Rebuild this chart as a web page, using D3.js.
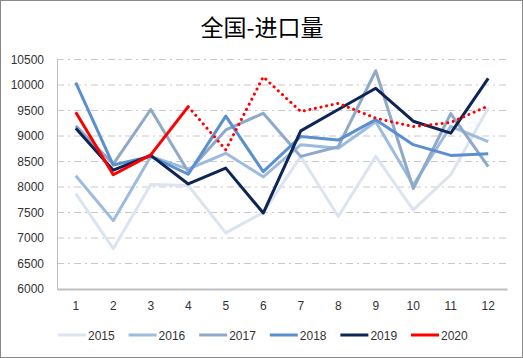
<!DOCTYPE html>
<html><head><meta charset="utf-8">
<script src="https://cdn.jsdelivr.net/npm/d3@7/dist/d3.min.js"></script>
<style>body{margin:0;background:#fff}svg{display:block}</style>
</head><body>
<svg id="c" width="523" height="358"></svg>
<script>
const months = ["1","2","3","4","5","6","7","8","9","10","11","12"];
const yTicks = [6000,6500,7000,7500,8000,8500,9000,9500,10000,10500];
const s2015 = [7870,6790,8050,8030,7100,7500,8600,7420,8600,7550,8240,9550];
const s2016 = [8220,7340,8600,8350,8660,8200,8830,8760,9280,8040,9190,8890];
const s2017 = [9200,8450,9520,8300,9120,9445,8600,8790,10280,7970,9440,8400];
const s2018 = [10045,8430,8600,8250,9390,8300,8990,8920,9320,8830,8620,8650];
const s2019 = [9150,8330,8620,8060,8370,7490,9100,9520,9935,9290,9055,10130];
const s2020 = [9465,8240,8630,9575];
const s2020Dotted = [null,null,null,9575,8730,10160,9480,9640,9350,9185,9265,9590];
const seriesNames = ["2015","2016","2017","2018","2019","2020"];
const seriesColors = ["#dbe4f0","#9dbbe0","#8fa9c9","#5b8fd0","#0d2456","#ff0000"];
const seriesData = [s2015,s2016,s2017,s2018,s2019,s2020];

const svg = d3.select("#c");
svg.append("rect").attr("x",0.5).attr("y",0.5).attr("width",522).attr("height",357)
  .attr("fill","#fff").attr("stroke","#898989");

svg.append("text").attr("x",262).attr("y",36).attr("text-anchor","middle")
  .attr("font-family","'Noto Sans CJK SC'").attr("font-size",23).attr("fill","#000")
  .text("全国-进口量");

const x = d3.scaleBand().domain(months).range([57,507]);
const y = d3.scaleLinear().domain([6000,10500]).range([289,59.5]);
const cx = m => x(m) + x.bandwidth()/2;

// gridlines
svg.append("g").selectAll("line").data(yTicks.filter(t=>t>6000)).join("line")
  .attr("x1",57).attr("x2",507).attr("y1",d=>y(d)).attr("y2",d=>y(d))
  .attr("stroke","#c8c8c8").attr("stroke-width",1).attr("stroke-dasharray","7,4,2,4");

// axes
const ya = svg.append("g").attr("transform","translate(57,0)")
  .call(d3.axisLeft(y).tickValues(yTicks).tickSize(0).tickPadding(13).tickFormat(d3.format("d")));
ya.select(".domain").attr("stroke","#bfbfbf").attr("stroke-width",1);
ya.selectAll("text").attr("font-family","'Liberation Sans'").attr("font-size",12).attr("fill","#333");

const xa = svg.append("g").attr("transform","translate(0,289)")
  .call(d3.axisBottom(x).tickSize(0).tickPadding(12));
xa.select(".domain").attr("stroke","#bfbfbf").attr("stroke-width",2);
xa.selectAll("text").attr("font-family","'Liberation Sans'").attr("font-size",12).attr("fill","#333");

const line = d3.line().defined(d=>d!=null).x((d,i)=>cx(months[i])).y(d=>y(d));

seriesData.forEach((s,k)=>{
  svg.append("path").attr("d",line(s)).attr("fill","none")
    .attr("stroke",seriesColors[k]).attr("stroke-width",3).attr("stroke-linejoin","round");
});
svg.append("path").attr("d",line(s2020Dotted)).attr("fill","none")
  .attr("stroke","#ff0000").attr("stroke-width",3).attr("stroke-linecap","round")
  .attr("stroke-dasharray","0.1,5.6");

// legend
const lg = svg.append("g");
seriesNames.forEach((n,k)=>{
  const lx = 58 + k*70.6;
  lg.append("line").attr("x1",lx).attr("x2",lx+28).attr("y1",335).attr("y2",335)
    .attr("stroke",seriesColors[k]).attr("stroke-width",3);
  lg.append("text").attr("x",lx+30).attr("y",339.5).attr("font-family","'Liberation Sans'")
    .attr("font-size",12).attr("fill","#333").text(n);
});
</script>
</body></html>
